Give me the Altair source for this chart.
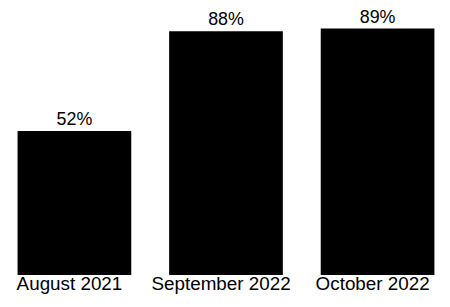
import altair as alt
import pandas as pd

categories = ["August 2021", "September 2022", "October 2022"]
values = [52, 88, 89]
labels = ["52%", "88%", "89%"]

df = pd.DataFrame({"period": categories, "value": values, "label": labels})

x = alt.X("period:N", sort=categories,
          scale=alt.Scale(paddingInner=0.25, paddingOuter=0.05),
          axis=alt.Axis(title=None, labelAngle=0, domain=False, ticks=False,
                        labelFontSize=19, labelColor="black", labelPadding=0,
                        labelOffset=-5, labelFont="Liberation Sans"))
y = alt.Y("value:Q", scale=alt.Scale(domain=[0, 92], nice=False),
          axis=None)

bars = alt.Chart(df).mark_bar(color="black").encode(x=x, y=y)
text = alt.Chart(df).mark_text(baseline="alphabetic", dy=-6, fontSize=18,
                               font="Liberation Sans", color="black").encode(
    x=x, y=y, text="label:N")

chart = (bars + text).properties(
    width=436, height=257,
    background="white",
    autosize=alt.AutoSizeParams(type="none"),
    padding={"left": 2, "top": 11, "right": 0, "bottom": 30},
).configure_view(stroke=None)

chart.save("out.html", embed_options={"renderer": "svg", "actions": False})
